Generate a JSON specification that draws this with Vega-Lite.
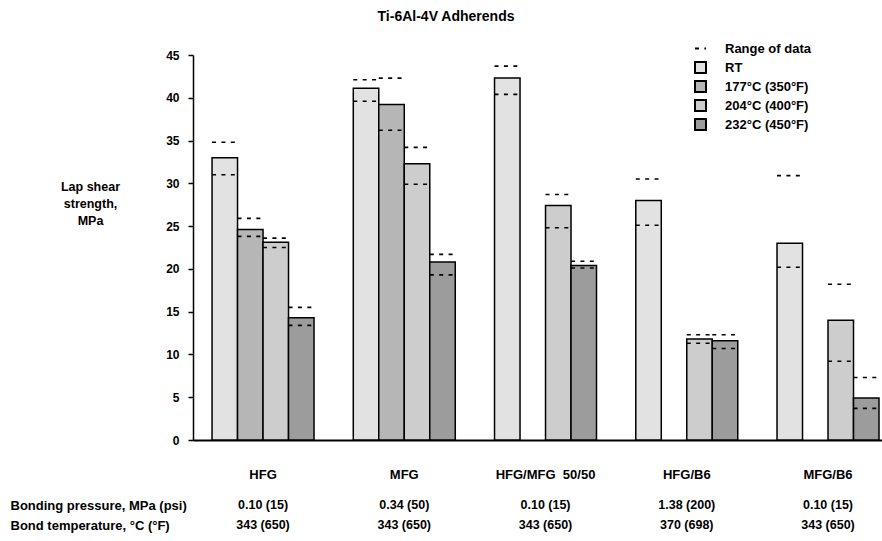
{
  "$schema": "https://vega.github.io/schema/vega-lite/v6.json",
  "background": "white",
  "padding": {"left": 10, "top": 10, "right": 0, "bottom": 0},
  "title": {"text": "Ti-6Al-4V Adherends", "fontSize": 14, "fontWeight": "bold", "font": "Liberation Sans", "color": "black", "anchor": "middle", "frame": "bounds", "offset": 18},
  "datasets": {
    "bars": [
      {"group": "HFG", "temp": "RT", "value": 33.0, "lo": 31.0, "hi": 34.8},
      {"group": "HFG", "temp": "177°C (350°F)", "value": 24.6, "lo": 23.8, "hi": 25.9},
      {"group": "HFG", "temp": "204°C (400°F)", "value": 23.1, "lo": 22.5, "hi": 23.6},
      {"group": "HFG", "temp": "232°C (450°F)", "value": 14.3, "lo": 13.4, "hi": 15.5},
      {"group": "MFG", "temp": "RT", "value": 41.1, "lo": 39.6, "hi": 42.1},
      {"group": "MFG", "temp": "177°C (350°F)", "value": 39.2, "lo": 36.2, "hi": 42.3},
      {"group": "MFG", "temp": "204°C (400°F)", "value": 32.3, "lo": 29.9, "hi": 34.2},
      {"group": "MFG", "temp": "232°C (450°F)", "value": 20.8, "lo": 19.3, "hi": 21.7},
      {"group": "HFG/MFG\u00a0\u00a050/50", "temp": "RT", "value": 42.3, "lo": 40.4, "hi": 43.7},
      {"group": "HFG/MFG\u00a0\u00a050/50", "temp": "204°C (400°F)", "value": 27.4, "lo": 24.8, "hi": 28.7},
      {"group": "HFG/MFG\u00a0\u00a050/50", "temp": "232°C (450°F)", "value": 20.4, "lo": 20.1, "hi": 20.9},
      {"group": "HFG/B6", "temp": "RT", "value": 28.0, "lo": 25.1, "hi": 30.5},
      {"group": "HFG/B6", "temp": "204°C (400°F)", "value": 11.8, "lo": 11.3, "hi": 12.3},
      {"group": "HFG/B6", "temp": "232°C (450°F)", "value": 11.6, "lo": 10.7, "hi": 12.3},
      {"group": "MFG/B6", "temp": "RT", "value": 23.0, "lo": 20.2, "hi": 30.9},
      {"group": "MFG/B6", "temp": "204°C (400°F)", "value": 14.0, "lo": 9.2, "hi": 18.2},
      {"group": "MFG/B6", "temp": "232°C (450°F)", "value": 4.9, "lo": 3.7, "hi": 7.3}
    ],
    "table": [
      {"group": "HFG", "param": "Bonding pressure, MPa (psi)", "val": "0.10 (15)"},
      {"group": "MFG", "param": "Bonding pressure, MPa (psi)", "val": "0.34 (50)"},
      {"group": "HFG/MFG\u00a0\u00a050/50", "param": "Bonding pressure, MPa (psi)", "val": "0.10 (15)"},
      {"group": "HFG/B6", "param": "Bonding pressure, MPa (psi)", "val": "1.38 (200)"},
      {"group": "MFG/B6", "param": "Bonding pressure, MPa (psi)", "val": "0.10 (15)"},
      {"group": "HFG", "param": "Bond temperature, °C (°F)", "val": "343 (650)"},
      {"group": "MFG", "param": "Bond temperature, °C (°F)", "val": "343 (650)"},
      {"group": "HFG/MFG\u00a0\u00a050/50", "param": "Bond temperature, °C (°F)", "val": "343 (650)"},
      {"group": "HFG/B6", "param": "Bond temperature, °C (°F)", "val": "370 (698)"},
      {"group": "MFG/B6", "param": "Bond temperature, °C (°F)", "val": "343 (650)"}
    ]
  },
  "spacing": 14,
  "vconcat": [
    {
      "width": 689,
      "height": 385,
      "data": {"name": "bars"},
      "layer": [
        {
          "mark": {"type": "bar", "stroke": "black", "strokeWidth": 1.5},
          "encoding": {
            "x": {"field": "group", "type": "nominal", "sort": ["HFG", "MFG", "HFG/MFG\u00a0\u00a050/50", "HFG/B6", "MFG/B6"],
                  "scale": {"type": "band", "paddingInner": 0.278, "paddingOuter": 0.078, "align": 0.864},
                  "axis": {"title": null, "ticks": false, "labelAngle": 0, "labelPadding": 28, "labelFontSize": 13, "labelFontWeight": "bold", "domainColor": "black", "domainWidth": 2}},
            "xOffset": {"field": "temp", "type": "nominal", "scale": {"domain": ["RT", "177°C (350°F)", "204°C (400°F)", "232°C (450°F)"], "paddingInner": 0, "paddingOuter": 0}},
            "y": {"field": "value", "type": "quantitative", "scale": {"domain": [0, 45], "nice": false},
                  "axis": {"values": [0, 5, 10, 15, 20, 25, 30, 35, 40, 45], "title": ["Lap shear", "strength,", "MPa"], "titleAngle": 0, "titleAlign": "center", "titleBaseline": "middle", "titleX": -103, "titleY": 131, "titleLineHeight": 17, "titleFontSize": 12.5, "titleFontWeight": "bold", "grid": false, "tickSize": 5, "tickWidth": 1.5, "tickColor": "black", "domainColor": "black", "domainWidth": 1.5, "labelFontSize": 12, "labelFontWeight": "bold", "labelPadding": 9}},
            "fill": {"field": "temp", "type": "nominal", "scale": {"domain": ["RT", "177°C (350°F)", "204°C (400°F)", "232°C (450°F)"], "range": ["#e2e2e2", "#b6b6b6", "#cdcdcd", "#9c9c9c"]},
                     "legend": {"title": null, "orient": "none", "legendX": 501, "legendY": 6, "padding": 0, "symbolType": "square", "symbolSize": 121, "symbolStrokeColor": "black", "symbolStrokeWidth": 2, "labelOffset": 18, "rowPadding": 0, "labelFontSize": 13, "labelFontWeight": "bold"}}
          }
        },
        {
          "transform": [{"fold": ["lo", "hi"], "as": ["bound", "range"]}],
          "mark": {"type": "bar", "fill": "transparent", "fillOpacity": 0, "strokeWidth": 1.6, "stroke": "black"},
          "encoding": {
            "x": {"field": "group", "type": "nominal", "sort": ["HFG", "MFG", "HFG/MFG\u00a0\u00a050/50", "HFG/B6", "MFG/B6"]},
            "xOffset": {"field": "temp", "type": "nominal", "scale": {"domain": ["RT", "177°C (350°F)", "204°C (400°F)", "232°C (450°F)"], "paddingInner": 0, "paddingOuter": 0}},
            "y": {"field": "range", "type": "quantitative"},
            "y2": {"field": "range"},
            "strokeDash": {"datum": "Range of data", "type": "nominal", "scale": {"range": [[4, 5.4]]},
                           "legend": {"title": null, "orient": "none", "legendX": 501, "legendY": -13, "padding": 0, "symbolType": "stroke", "symbolSize": 121, "symbolStrokeColor": "black", "symbolStrokeWidth": 2, "labelOffset": 18, "labelFontSize": 13, "labelFontWeight": "bold"}}
          }
        }
      ]
    },
    {
      "width": 689,
      "height": 40,
      "data": {"name": "table"},
      "mark": {"type": "text", "fontSize": 12.5, "fontWeight": "bold", "color": "black"},
      "encoding": {
        "x": {"field": "group", "type": "nominal", "sort": ["HFG", "MFG", "HFG/MFG\u00a0\u00a050/50", "HFG/B6", "MFG/B6"],
              "scale": {"type": "band", "paddingInner": 0.278, "paddingOuter": 0.078, "align": 0.864}, "axis": null},
        "y": {"field": "param", "type": "nominal", "sort": ["Bonding pressure, MPa (psi)", "Bond temperature, °C (°F)"],
              "axis": {"title": null, "domain": false, "ticks": false, "labelAlign": "left", "labelPadding": 183, "labelLimit": 300, "labelFontSize": 13, "labelFontWeight": "bold", "labelColor": "black"}},
        "text": {"field": "val"}
      }
    }
  ],
  "config": {
    "font": "Liberation Sans",
    "view": {"stroke": null},
    "axis": {"labelColor": "black", "titleColor": "black", "labelFont": "Liberation Sans", "titleFont": "Liberation Sans"},
    "legend": {"labelColor": "black", "labelFont": "Liberation Sans"}
  }
}
